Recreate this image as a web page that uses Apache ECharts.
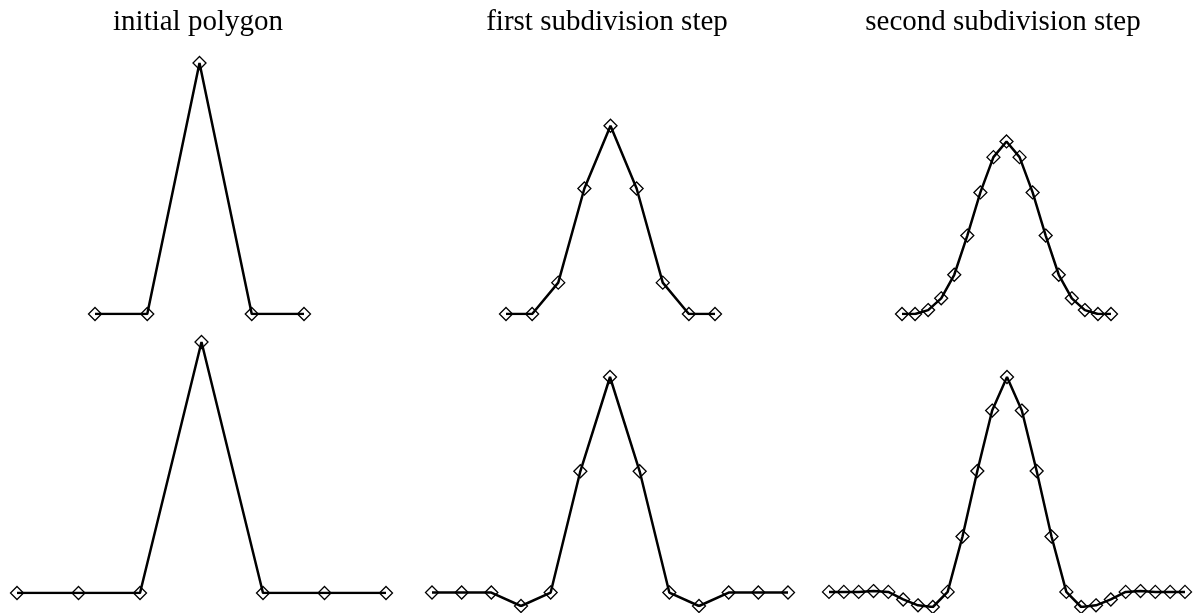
<!DOCTYPE html>
<html>
<head>
<meta charset="utf-8">
<script src="https://cdn.jsdelivr.net/npm/echarts@6/dist/echarts.min.js"></script>
<style>
  html, body { margin: 0; padding: 0; background: #fff; }
  #chart { width: 1193px; height: 613px; }
</style>
</head>
<body>
<div id="chart"></div>
<script>
// column titles
var titles = ['initial polygon', 'first subdivision step', 'second subdivision step'];

// top row: approximating (B-spline) subdivision
var topX0 = [-2, -1, 0, 1, 2];
var topY0 = [0, 0, 1, 0, 0];
var topX1 = [-2, -1.5, -1, -0.5, 0, 0.5, 1, 1.5, 2];
var topY1 = [0, 0, 0.125, 0.5, 0.75, 0.5, 0.125, 0, 0];
var topX2 = [-2, -1.75, -1.5, -1.25, -1, -0.75, -0.5, -0.25, 0, 0.25, 0.5, 0.75, 1, 1.25, 1.5, 1.75, 2];
var topY2 = [0, 0, 0.0156, 0.0625, 0.1563, 0.3125, 0.4844, 0.625, 0.6875, 0.625, 0.4844, 0.3125, 0.1563, 0.0625, 0.0156, 0, 0];

// bottom row: interpolating (four-point) subdivision
var botX0 = [-3, -2, -1, 0, 1, 2, 3];
var botY0 = [0, 0, 0, 1, 0, 0, 0];
var botX1 = [-3, -2.5, -2, -1.5, -1, -0.5, 0, 0.5, 1, 1.5, 2, 2.5, 3];
var botY1 = [0, 0, 0, -0.0625, 0, 0.5625, 1, 0.5625, 0, -0.0625, 0, 0, 0];
var botX2 = [-3, -2.75, -2.5, -2.25, -2, -1.75, -1.5, -1.25, -1, -0.75, -0.5, -0.25, 0,
             0.25, 0.5, 0.75, 1, 1.25, 1.5, 1.75, 2, 2.25, 2.5, 2.75, 3];
var botY2 = [0, 0, 0, 0.0039, 0, -0.0352, -0.0625, -0.0703, 0, 0.2578, 0.5625, 0.8438, 1,
             0.8438, 0.5625, 0.2578, 0, -0.0703, -0.0625, -0.0352, 0, 0.0039, 0, 0, 0];

// panel boxes (pixel) and axis ranges
var panels = [
  {xs: topX0, ys: topY0, box: [95, 63, 209, 251],    x: [-2, 2], y: [0, 1]},
  {xs: topX1, ys: topY1, box: [506, 63, 209, 251],   x: [-2, 2], y: [0, 1]},
  {xs: topX2, ys: topY2, box: [902, 63, 209, 251],   x: [-2, 2], y: [0, 1]},
  {xs: botX0, ys: botY0, box: [17, 342, 369, 251],   x: [-3, 3], y: [0, 1]},
  {xs: botX1, ys: botY1, box: [432, 377, 356, 229],  x: [-3, 3], y: [-0.0625, 1]},
  {xs: botX2, ys: botY2, box: [829, 377, 356, 230],  x: [-3, 3], y: [-0.0703, 1]}
];

var grids = [], xAxes = [], yAxes = [], series = [];
panels.forEach(function (p, i) {
  grids.push({left: p.box[0], top: p.box[1], width: p.box[2], height: p.box[3]});
  xAxes.push({type: 'value', gridIndex: i, min: p.x[0], max: p.x[1], show: false});
  yAxes.push({type: 'value', gridIndex: i, min: p.y[0], max: p.y[1], show: false});
  series.push({
    type: 'line',
    xAxisIndex: i,
    yAxisIndex: i,
    data: p.xs.map(function (x, k) { return [x, p.ys[k]]; }),
    symbol: 'diamond',
    symbolSize: 13,
    lineStyle: {color: '#000', width: 2.5},
    itemStyle: {color: 'rgba(0,0,0,0)', borderColor: '#000', borderWidth: 1.3}
  });
});

var titleX = [198, 607, 1003];
var graphics = titles.map(function (t, i) {
  return {
    type: 'text',
    x: titleX[i],
    y: 22,
    style: {
      text: t,
      font: '29px "Liberation Serif", "DejaVu Serif", serif',
      fill: '#000',
      align: 'center',
      verticalAlign: 'middle'
    }
  };
});

var myChart = echarts.init(document.getElementById('chart'));
myChart.setOption({
  animation: false,
  grid: grids,
  xAxis: xAxes,
  yAxis: yAxes,
  graphic: graphics,
  series: series
});
</script>
</body>
</html>
